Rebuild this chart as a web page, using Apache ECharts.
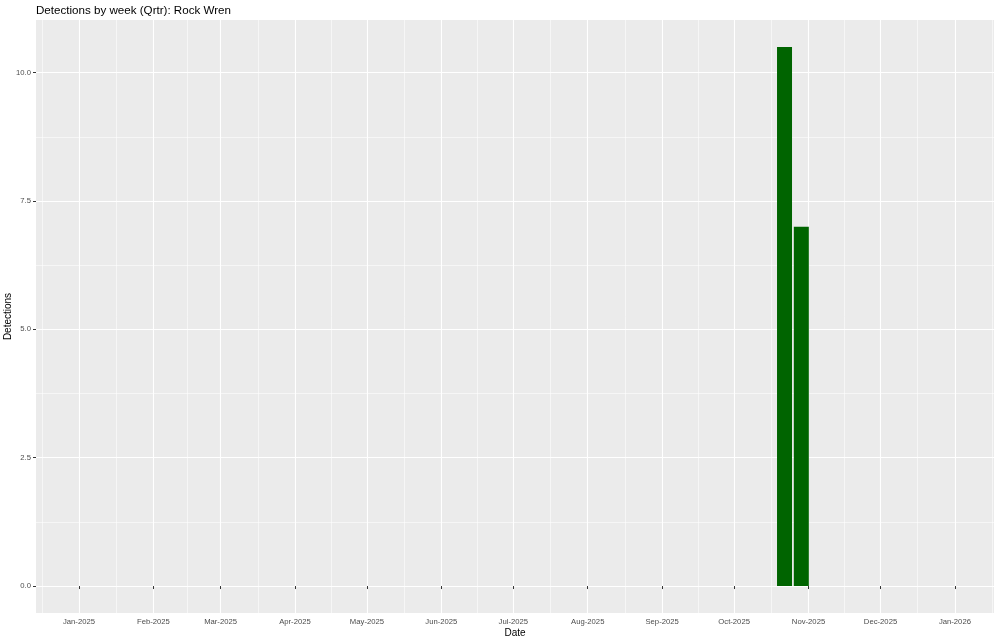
<!DOCTYPE html>
<html>
<head>
<meta charset="utf-8">
<script src="https://cdn.jsdelivr.net/npm/echarts@6/dist/echarts.min.js"></script>
<style>
html,body{margin:0;padding:0;background:#fff;}
#chart{width:1000px;height:642px;}
</style>
</head>
<body>
<div id="chart"></div>
<script>
// ---- data ----
var titleText = 'Detections by week (Qrtr): Rock Wren';
var weekDates = ['2025-10-22', '2025-10-29'];
var detections = [10.5, 7];
var xTickDates = ['2025-01-01','2025-02-01','2025-03-01','2025-04-01','2025-05-01','2025-06-01','2025-07-01','2025-08-01','2025-09-01','2025-10-01','2025-11-01','2025-12-01','2026-01-01'];
var xTickLabels = ['Jan-2025','Feb-2025','Mar-2025','Apr-2025','May-2025','Jun-2025','Jul-2025','Aug-2025','Sep-2025','Oct-2025','Nov-2025','Dec-2025','Jan-2026'];
var yTicks = [0, 2.5, 5, 7.5, 10];
var yTickLabels = ['0.0', '2.5', '5.0', '7.5', '10.0'];
var xRange = ['2024-12-14T02:00', '2026-01-17T07:00'];
var yRange = [-0.525, 11.025];

function ts(s) {
  var p = s.split('T');
  var d = p[0].split('-').map(Number);
  var h = 0, m = 0;
  if (p[1]) { var t = p[1].split(':').map(Number); h = t[0]; m = t[1]; }
  return Date.UTC(d[0], d[1] - 1, d[2], h, m);
}
var xTickTs = xTickDates.map(ts);
var labelMap = {};
xTickTs.forEach(function (t, i) { labelMap[t] = xTickLabels[i]; });
var yLabelMap = {};
yTicks.forEach(function (v, i) { yLabelMap[v] = yTickLabels[i]; });

// minor gridlines: midpoints between major breaks (ggplot style)
var allMonths = [ts('2024-12-01')].concat(xTickTs).concat([ts('2026-02-01')]);
var xMinor = [];
for (var i = 0; i < allMonths.length - 1; i++) {
  var mid = (allMonths[i] + allMonths[i + 1]) / 2;
  if (mid > ts(xRange[0]) && mid < ts(xRange[1])) xMinor.push(mid);
}
var yMinor = [];
for (var j = 0; j < yTicks.length - 1; j++) yMinor.push((yTicks[j] + yTicks[j + 1]) / 2);

var chart = echarts.init(document.getElementById('chart'), null, {renderer: 'canvas'});
var font = 'Liberation Sans, Arial, Helvetica, sans-serif';

function minorAxis(type, values, range) {
  return {
    type: 'value',
    min: range[0], max: range[1],
    position: type === 'x' ? 'bottom' : 'left',
    axisLine: {show: false},
    axisTick: {show: false, customValues: values},
    axisLabel: {show: false, customValues: values},
    splitLine: {show: true, lineStyle: {color: '#ffffff', width: 0.55}},
    z: 0
  };
}

chart.setOption({
  animation: false,
  backgroundColor: '#ffffff',
  title: {
    text: titleText,
    left: 36,
    top: 5,
    padding: 0,
    textStyle: {fontFamily: font, fontSize: 11.6, fontWeight: 'normal', color: '#000'}
  },
  grid: {
    left: 36, right: 6, top: 20, bottom: 29,
    show: true, backgroundColor: '#ebebeb', borderWidth: 0,
    containLabel: false,
    outerBoundsMode: 'none'
  },
  xAxis: [{
    type: 'value',
    min: ts(xRange[0]),
    max: ts(xRange[1]),
    name: 'Date',
    nameLocation: 'middle',
    nameGap: 15,
    nameMoveOverlap: false,
    nameTextStyle: {fontFamily: font, fontSize: 10, color: '#000'},
    axisLine: {show: false},
    axisTick: {show: true, length: 3, lineStyle: {color: '#333333', width: 1}, customValues: xTickTs},
    axisLabel: {
      customValues: xTickTs,
      fontFamily: font, fontSize: 7.7, color: '#4d4d4d', margin: 5,
      formatter: function (v) { return labelMap[v] || ''; }
    },
    splitLine: {show: true, lineStyle: {color: '#ffffff', width: 1.1}},
    z: 1
  }, minorAxis('x', xMinor, [ts(xRange[0]), ts(xRange[1])])],
  yAxis: [{
    type: 'value',
    min: yRange[0],
    max: yRange[1],
    name: 'Detections',
    nameLocation: 'middle',
    nameGap: 22.5,
    nameMoveOverlap: false,
    nameRotate: 90,
    nameTextStyle: {fontFamily: font, fontSize: 10, color: '#000'},
    axisLine: {show: false},
    axisTick: {show: true, length: 3, lineStyle: {color: '#333333', width: 1}, customValues: yTicks},
    axisLabel: {
      customValues: yTicks,
      fontFamily: font, fontSize: 7.7, color: '#4d4d4d', margin: 5,
      formatter: function (v) { return yLabelMap[v] !== undefined ? yLabelMap[v] : ''; }
    },
    splitLine: {show: true, lineStyle: {color: '#ffffff', width: 1.1}},
    z: 1
  }, minorAxis('y', yMinor, yRange)],
  series: [
    {
      type: 'bar',
      xAxisIndex: 0,
      yAxisIndex: 0,
      z: 3,
      barWidth: 15,
      itemStyle: {color: '#006400'},
      data: weekDates.map(function (d, i) { return [ts(d), detections[i]]; })
    }
  ]
});
</script>
</body>
</html>
